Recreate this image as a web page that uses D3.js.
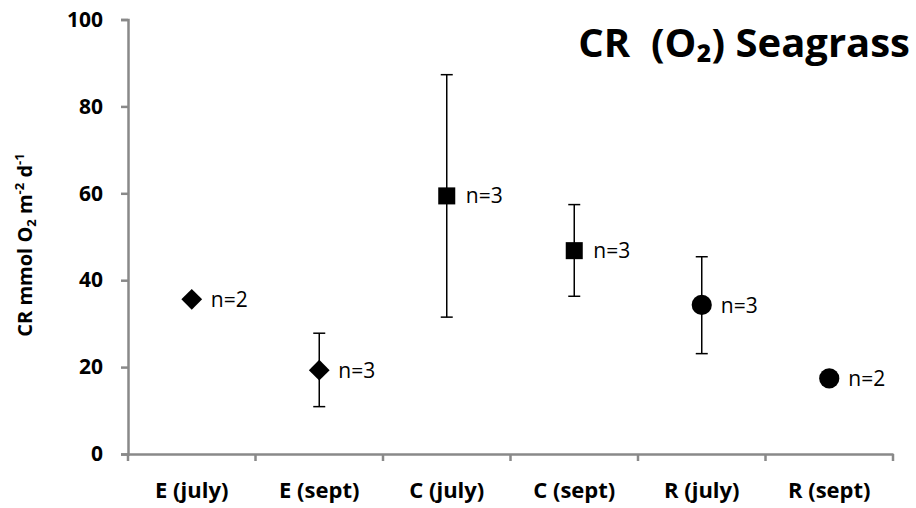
<!DOCTYPE html>
<html>
  <head>
    <style>
      body { margin: 0; background: #fff; }
      svg text { font-family: "Open Sans", Lato, sans-serif; white-space: pre; }
    </style>
  </head>
  <body>
    <svg width="916" height="508"></svg>
    <script src="https://d3js.org/d3.v7.min.js"></script>
    <script>
      var categories = ["E (july)", "E (sept)", "C (july)", "C (sept)", "R (july)", "R (sept)"];
      var means = [35.6, 19.3, 59.4, 46.8, 34.3, 17.4];
      var errTop = [null, 27.8, 87.3, 57.4, 45.4, null];
      var errBottom = [null, 10.9, 31.5, 36.3, 23.1, null];
      var nLabels = ["n=2", "n=3", "n=3", "n=3", "n=3", "n=2"];
      var shapes = ["diamond", "diamond", "square", "square", "circle", "circle"];
      var yTicks = [0, 20, 40, 60, 80, 100];

      var svg = d3.select("svg");
      var font = '"Open Sans", Lato, sans-serif';
      var axisGrey = "#898989";

      var x = d3.scaleBand().domain(categories).range([128, 893]);
      var y = d3.scaleLinear().domain([0, 100]).range([454, 19.5]);

      var data = categories.map(function(c, i) {
        return { cat: c, mean: means[i], hi: errTop[i], lo: errBottom[i], n: nLabels[i], shape: shapes[i] };
      });

      // y axis
      var yAxis = svg.append("g")
        .attr("transform", "translate(128,0)")
        .call(d3.axisLeft(y).tickValues(yTicks).tickSize(7).tickPadding(18));
      yAxis.select(".domain").attr("stroke", axisGrey).attr("stroke-width", 2.5);
      yAxis.selectAll(".tick line").attr("stroke", axisGrey).attr("stroke-width", 2.5);
      yAxis.selectAll(".tick text")
        .style("font-size", "21px").style("font-weight", "bold").style("font-family", font)
        .attr("fill", "#000");

      // x axis
      var xAxis = svg.append("g")
        .attr("transform", "translate(0," + y(0) + ")")
        .call(d3.axisBottom(x).tickSize(0));
      xAxis.select(".domain").attr("stroke", axisGrey).attr("stroke-width", 2.5);
      xAxis.selectAll(".tick text")
        .attr("y", 44).attr("dy", 0)
        .style("font-size", "22px").style("font-weight", "bold").style("font-family", font)
        .attr("fill", "#000");

      // tick marks at band boundaries
      var bounds = categories.map(function(c) { return x(c); }).concat([x.range()[1]]);
      svg.append("g").selectAll("line")
        .data(bounds).enter().append("line")
        .attr("x1", function(d) { return d; })
        .attr("x2", function(d) { return d; })
        .attr("y1", y(0))
        .attr("y2", y(0) + 7)
        .attr("stroke", axisGrey)
        .attr("stroke-width", 2.5);

      var cx = function(d) { return x(d.cat) + x.bandwidth() / 2; };

      // error bars
      var eb = svg.append("g").selectAll("g")
        .data(data.filter(function(d) { return d.hi != null; }))
        .enter().append("g");
      eb.append("line")
        .attr("x1", cx).attr("x2", cx)
        .attr("y1", function(d) { return y(d.hi); })
        .attr("y2", function(d) { return y(d.lo); })
        .attr("stroke", "#000").attr("stroke-width", 1.5);
      eb.append("line")
        .attr("x1", function(d) { return cx(d) - 6; })
        .attr("x2", function(d) { return cx(d) + 6; })
        .attr("y1", function(d) { return y(d.hi); })
        .attr("y2", function(d) { return y(d.hi); })
        .attr("stroke", "#000").attr("stroke-width", 1.5);
      eb.append("line")
        .attr("x1", function(d) { return cx(d) - 6; })
        .attr("x2", function(d) { return cx(d) + 6; })
        .attr("y1", function(d) { return y(d.lo); })
        .attr("y2", function(d) { return y(d.lo); })
        .attr("stroke", "#000").attr("stroke-width", 1.5);

      // markers
      var sym = {
        diamond: d3.symbol().type(d3.symbolDiamond2).size(275),
        square: d3.symbol().type(d3.symbolSquare).size(290),
        circle: d3.symbol().type(d3.symbolCircle).size(320)
      };
      svg.append("g").selectAll("path")
        .data(data).enter().append("path")
        .attr("transform", function(d) { return "translate(" + cx(d) + "," + y(d.mean) + ")"; })
        .attr("d", function(d) { return sym[d.shape](); })
        .attr("fill", "#000");

      // n labels
      svg.append("g").selectAll("text")
        .data(data).enter().append("text")
        .attr("x", function(d) { return cx(d) + 19; })
        .attr("y", function(d) { return y(d.mean); })
        .attr("dy", "0.36em")
        .style("font-size", "21px")
        .text(function(d) { return d.n; });

      // y axis title
      var yt = svg.append("text")
        .attr("transform", "translate(32,245) rotate(-90)")
        .attr("text-anchor", "middle")
        .style("font-size", "20px")
        .style("font-weight", "bold");
      yt.append("tspan").text("CR mmol O");
      yt.append("tspan").style("font-size", "13px").attr("dy", 4).text("2");
      yt.append("tspan").attr("dy", -4).text(" m");
      yt.append("tspan").style("font-size", "13px").attr("dy", -8).text("-2");
      yt.append("tspan").attr("dy", 8).text(" d");
      yt.append("tspan").style("font-size", "13px").attr("dy", -8).text("-1");

      // chart title
      svg.append("text")
        .attr("x", 910)
        .attr("y", 57)
        .attr("text-anchor", "end")
        .style("font-size", "40px")
        .style("font-weight", "bold")
        .text("CR  (O\u2082) Seagrass");
    </script>
  </body>
</html>
